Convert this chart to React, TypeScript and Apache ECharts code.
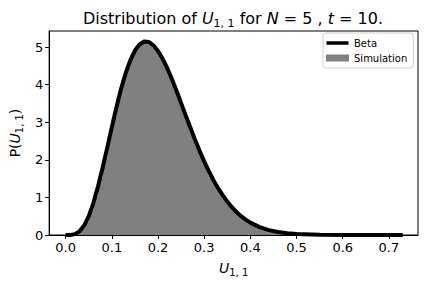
import React, { useEffect, useRef } from "react";
import * as echarts from "echarts";

// Histogram (simulation): bins of width 0.01 starting at 0.0
const binStart = 0.0;
const binWidth = 0.01;
const histValues = [
  0.0, 0.008, 0.05, 0.16, 0.36, 0.66, 1.05, 1.53, 2.05, 2.6,
  3.14, 3.65, 4.12, 4.49, 4.8, 5.01, 5.13, 5.16, 5.11, 4.98,
  4.8, 4.57, 4.3, 3.99, 3.68, 3.35, 3.02, 2.7, 2.39, 2.1,
  1.83, 1.58, 1.35, 1.15, 0.97, 0.81, 0.68, 0.56, 0.45, 0.37,
  0.3, 0.24, 0.19, 0.15, 0.115, 0.09, 0.07, 0.052, 0.04, 0.03,
  0.022, 0.016, 0.012, 0.008, 0.006, 0.004, 0.003, 0.002, 0.0015, 0.001,
  0.0005, 0.0004, 0.0003, 0.0002, 0.0001, 0, 0, 0, 0, 0, 0, 0, 0,
];

// Beta curve
const curveX = [
  0, 0.01, 0.02, 0.03, 0.04, 0.05, 0.06, 0.07, 0.08, 0.09,
  0.1, 0.11, 0.12, 0.13, 0.14, 0.15, 0.16, 0.17, 0.18, 0.19,
  0.2, 0.21, 0.22, 0.23, 0.24, 0.25, 0.26, 0.27, 0.28, 0.29,
  0.3, 0.31, 0.32, 0.33, 0.34, 0.35, 0.36, 0.37, 0.38, 0.39,
  0.4, 0.42, 0.44, 0.46, 0.48, 0.5, 0.55, 0.6, 0.65, 0.73,
];
const curveY = [
  0, 0.0018, 0.023, 0.097, 0.25, 0.5, 0.85, 1.29, 1.79, 2.32,
  2.87, 3.4, 3.89, 4.31, 4.65, 4.91, 5.07, 5.15, 5.14, 5.05,
  4.9, 4.69, 4.44, 4.15, 3.84, 3.51, 3.18, 2.86, 2.54, 2.24,
  1.96, 1.7, 1.46, 1.25, 1.06, 0.89, 0.74, 0.61, 0.5, 0.41,
  0.33, 0.21, 0.13, 0.078, 0.045, 0.025, 0.005, 0.0008, 0.0001, 0,
];

const xTicks = [0, 0.1, 0.2, 0.3, 0.4, 0.5, 0.6, 0.7];
const yTicks = [0, 1, 2, 3, 4, 5];

const FONT = "DejaVu Sans";

export default function App() {
  const ref = useRef<HTMLDivElement>(null);
  useEffect(() => {
    if (!ref.current) return;
    const chart = echarts.init(ref.current, null, { renderer: "svg" });

    const histData: [number, number][] = histValues.map((v, i) => [
      +(binStart + i * binWidth).toFixed(4),
      v,
    ]);
    histData.push([+(binStart + histValues.length * binWidth).toFixed(4), 0]);
    const curveData = curveX.map((x, i) => [x, curveY[i]]);

    chart.setOption({
      animation: false,
      backgroundColor: "#fff",
      textStyle: { fontFamily: FONT },
      title: {
        left: 233,
        textAlign: "center",
        top: 7,
        padding: 0,
        text: "{n|Distribution of }{i|U}{s|1, 1}{n| for }{i|N}{n| = 5 , }{i|t}{n| = 10.}",
        textStyle: {
          fontWeight: "normal",
          rich: {
            n: { fontFamily: FONT, fontSize: 16, fontWeight: "normal", color: "#000", lineHeight: 22 },
            i: { fontFamily: FONT, fontSize: 16, fontWeight: "normal", fontStyle: "italic", color: "#000", lineHeight: 22 },
            s: { fontFamily: FONT, fontSize: 11, fontWeight: "normal", color: "#000", lineHeight: 12, verticalAlign: "bottom" },
          },
        },
      },
      legend: {
        left: 323,
        top: 33,
        orient: "vertical",
        itemWidth: 23,
        itemHeight: 7,
        itemGap: 5,
        padding: [5, 6, 5, 3],
        borderColor: "#d0d0d0",
        borderWidth: 1,
        borderRadius: 3,
        backgroundColor: "#fff",
        textStyle: { fontFamily: FONT, fontSize: 10, color: "#000" },
        data: [
          {
            name: "Beta",
            icon: "path://M0,1.8H22V5.2H0Z M0,0H0.01V7H0Z",
            itemStyle: { color: "#000" },
          },
          { name: "Simulation", icon: "rect", itemStyle: { color: "#808080" } },
        ],
      },
      grid: {
        left: 49,
        right: 14,
        top: 31,
        bottom: 53,
        show: true,
        borderColor: "#000",
        borderWidth: 1,
        containLabel: false,
      },
      xAxis: {
        type: "value",
        min: -0.0357,
        max: 0.763,
        name: "{i|U}{s|1, 1}",
        nameLocation: "middle",
        nameGap: 24,
        nameTextStyle: {
          rich: {
            i: { fontFamily: FONT, fontSize: 14, fontStyle: "italic", color: "#000", lineHeight: 18 },
            s: { fontFamily: FONT, fontSize: 10, color: "#000", lineHeight: 10, verticalAlign: "bottom" },
          },
        },
        axisLine: { show: true, onZero: false, lineStyle: { color: "#000", width: 1 } },
        axisTick: {
          show: true,
          length: 4,
          lineStyle: { color: "#000" },
          customValues: xTicks,
        },
        axisLabel: {
          customValues: xTicks,
          fontFamily: FONT,
          fontSize: 13,
          color: "#000",
          margin: 6,
          formatter: (v: number) => v.toFixed(1),
        },
        splitLine: { show: false },
      },
      yAxis: {
        type: "value",
        min: 0,
        max: 5.43,
        name: "{n|P(}{i|U}{s|1, 1}{n|)}",
        nameLocation: "middle",
        nameGap: 23,
        nameRotate: 90,
        nameTextStyle: {
          rich: {
            n: { fontFamily: FONT, fontSize: 14, color: "#000", lineHeight: 18 },
            i: { fontFamily: FONT, fontSize: 14, fontStyle: "italic", color: "#000", lineHeight: 18 },
            s: { fontFamily: FONT, fontSize: 10, color: "#000", lineHeight: 10, verticalAlign: "bottom" },
          },
        },
        axisLine: { show: true, onZero: false, lineStyle: { color: "#000", width: 1 } },
        axisTick: {
          show: true,
          length: 4,
          lineStyle: { color: "#000" },
          customValues: yTicks,
        },
        axisLabel: {
          customValues: yTicks,
          fontFamily: FONT,
          fontSize: 13,
          color: "#000",
          margin: 6,
        },
        splitLine: { show: false },
      },
      series: [
        {
          name: "Simulation",
          type: "line",
          step: "end",
          data: histData,
          symbol: "none",
          color: "#808080",
          lineStyle: { width: 0, color: "#808080" },
          areaStyle: { color: "#808080", opacity: 1 },
          z: 1,
        },
        {
          name: "Beta",
          type: "line",
          data: curveData,
          symbol: "none",
          color: "#000",
          lineStyle: { width: 4, color: "#000" },
          z: 3,
        },
      ],
    });
    return () => chart.dispose();
  }, []);
  return (
    <div style={{ position: "absolute", left: 0, top: 0 }}>
      <div ref={ref} style={{ width: 432, height: 288 }} />
    </div>
  );
}
